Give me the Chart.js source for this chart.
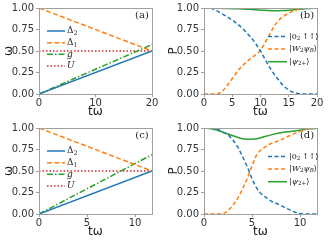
<!DOCTYPE html>
<html><head><meta charset="utf-8">
<script src="https://cdn.jsdelivr.net/npm/chart.js@4.4.0/dist/chart.umd.min.js"></script>
<style>
html,body{margin:0;padding:0;background:#fff;width:330px;height:240px;overflow:hidden;}
canvas{position:absolute;}
</style></head><body>
<canvas id="ca" width="165" height="120" style="left:0;top:0"></canvas>
<canvas id="cb" width="165" height="120" style="left:165px;top:0"></canvas>
<canvas id="cc" width="165" height="120" style="left:0;top:120px"></canvas>
<canvas id="cd" width="165" height="120" style="left:165px;top:120px"></canvas>
<script>
// ---- data ----
const yTicks = [0, 0.25, 0.5, 0.75, 1.0];
const xTicksA = [0, 10, 20];
const xTicksB = [0, 5, 10, 15, 20];
const xTicksC = [0, 5, 10];
const xTicksD = [0, 5, 10];
const tMaxAB = 20;
const tMaxCD = 11.77;

// panel (a)
const tA = [0, 20];
const delta2A = [0, 0.5];
const delta1A = [1, 0.5];
const gA = [0, 0.575];
const uA = [0.5, 0.5];

// panel (c)
const tC = [0, 11.77];
const delta2C = [0, 0.5];
const delta1C = [1, 0.5];
const gC = [0, 0.69];
const uC = [0.5, 0.5];

// panel (b)
const tB = [0,1,2,3,4,5,6,7,8,9,10,11,12,13,14,15,16,17,18,19,20];
const p0B = [1,1,0.975,0.94,0.9,0.86,0.81,0.75,0.68,0.6,0.5,0.38,0.27,0.18,0.1,0.045,0.015,0.003,0,0,0];
const pWB = [0,0,0,0.02,0.09,0.18,0.27,0.34,0.4,0.45,0.51,0.62,0.74,0.84,0.9,0.94,0.97,0.99,1,1,1];
const tBg = [0,2,4,6,8,10,12,14,16,18,20];
const pPsiB = [1,0.998,0.995,0.99,0.985,0.975,0.968,0.97,0.98,0.992,1];

// panel (d)
const tD = [0,1,1.5,2,2.5,3,3.5,4,4.5,5,5.5,6,6.5,7,7.5,8,8.5,9,9.5,10,10.5,11,11.77];
const p0D = [1,0.995,0.98,0.95,0.92,0.86,0.78,0.67,0.55,0.41,0.3,0.23,0.19,0.15,0.125,0.1,0.07,0.045,0.02,0.005,0,0,0];
const pWD = [0,0,0,0.005,0.04,0.1,0.18,0.29,0.41,0.56,0.69,0.75,0.79,0.82,0.84,0.86,0.89,0.915,0.94,0.96,0.98,0.99,1];
const tDg = [0,1,2,3,4,4.5,5,5.5,6,7,8,9,10,11,11.77];
const pPsiD = [1,0.985,0.95,0.91,0.875,0.87,0.87,0.875,0.89,0.92,0.945,0.96,0.975,0.99,0.995];

// ---- styles ----
const BLUE='#1f77b4', ORANGE='#ff7f0e', GREEN='#2ca02c', RED='#d62728';
const FRAME='#a0a0a0';

function pts(xs, ys){ return xs.map((x,i)=>({x:x,y:ys[i]})); }

function drawRich(ctx, segs, x, y, size, family){
  let cx = x;
  for (const s of segs){
    const fs = s.sub ? size*0.7 : size;
    ctx.font = (s.it ? 'italic ' : '') + fs + 'px ' + family;
    ctx.textBaseline = 'middle';
    ctx.textAlign = 'left';
    ctx.fillText(s.t, cx, y + (s.sub ? size*0.25 : 0));
    cx += ctx.measureText(s.t).width;
  }
}

const decor = {
  id: 'decor',
  afterDatasetsDraw(chart, args, o){
    const ctx = chart.ctx, a = chart.chartArea;
    ctx.save();
    ctx.strokeStyle = FRAME; ctx.lineWidth = 1;
    ctx.strokeRect(a.left + 0.5, a.top + 0.5, a.right - a.left, a.bottom - a.top);
    // legend
    const L = o.legend;
    L.entries.forEach((e, i) => {
      const y = L.ys[i];
      ctx.beginPath();
      ctx.strokeStyle = e.color; ctx.lineWidth = 1.5;
      ctx.setLineDash(e.dash || []);
      ctx.moveTo(L.x0, y); ctx.lineTo(L.x1, y); ctx.stroke();
      ctx.setLineDash([]);
      ctx.fillStyle = '#222';
      drawRich(ctx, e.segs, L.tx, y, L.size, 'DejaVu Serif');
    });
    // panel label
    ctx.fillStyle = '#222';
    ctx.font = '10px "DejaVu Serif"';
    ctx.textAlign = 'center'; ctx.textBaseline = 'middle';
    ctx.fillText(o.panel, 142, 15);
    // axis titles
    ctx.font = '12px "DejaVu Sans"';
    ctx.fillText('t\u03c9', (a.left + a.right)/2, 112);
    ctx.save();
    ctx.translate(9, (a.top + a.bottom)/2);
    ctx.rotate(-Math.PI/2);
    ctx.font = '12px "DejaVu Sans"';
    ctx.fillText(o.ytitle, 0, 0);
    ctx.restore();
    ctx.restore();
  }
};

function makeChart(id, datasets, xmax, xticks, panel, ytitle, legend){
  new Chart(document.getElementById(id), {
    type: 'line',
    data: { datasets: datasets },
    plugins: [decor],
    options: {
      responsive: false, animation: false, devicePixelRatio: 1,
      layout: { padding: { top: 5, right: 13, left: 0, bottom: 0 } },
      plugins: { legend: { display: false }, tooltip: { enabled: false },
        decor: { panel: panel, ytitle: ytitle, legend: legend } },
      elements: { point: { radius: 0 } },
      scales: {
        x: { type: 'linear', min: 0, max: xmax,
          afterBuildTicks: s => { s.ticks = xticks.map(v => ({value: v})); },
          afterFit: s => { s.height = 26; },
          grid: { drawOnChartArea: false, drawTicks: true, tickLength: 3, color: FRAME },
          border: { display: false },
          ticks: { padding: 0, color: '#333', font: { family: 'DejaVu Sans', size: 10 }, maxRotation: 0,
            callback: v => String(v) } },
        y: { type: 'linear', min: 0, max: 1,
          afterBuildTicks: s => { s.ticks = yTicks.map(v => ({value: v})); },
          afterFit: s => { s.width = 39; },
          grid: { drawOnChartArea: false, drawTicks: true, tickLength: 3, color: FRAME },
          border: { display: false },
          ticks: { padding: 2, color: '#333', font: { family: 'DejaVu Sans', size: 10 },
            callback: v => Number(v).toFixed(2) } }
      }
    }
  });
}

const DASH_O = [5, 2.5];
const DASH_B = [4, 2.5];
const DASHDOT = [6, 2, 1.5, 2];
const DOT = [1.5, 2];

function rampSets(t, d2, d1, g, u){
  return [
    { data: pts(t, d2), borderColor: BLUE, borderWidth: 1.5, fill: false },
    { data: pts(t, d1), borderColor: ORANGE, borderWidth: 1.5, borderDash: DASH_O, fill: false },
    { data: pts(t, g), borderColor: GREEN, borderWidth: 1.5, borderDash: DASHDOT, fill: false },
    { data: pts(t, u), borderColor: RED, borderWidth: 1.5, borderDash: DOT, fill: false }
  ];
}
function popSets(t, p0, pW, tg, pg){
  return [
    { data: pts(t, p0), borderColor: BLUE, borderWidth: 1.5, borderDash: DASH_B, cubicInterpolationMode: 'monotone', fill: false },
    { data: pts(t, pW), borderColor: ORANGE, borderWidth: 1.5, borderDash: DASH_B, cubicInterpolationMode: 'monotone', fill: false },
    { data: pts(tg, pg), borderColor: GREEN, borderWidth: 1.5, cubicInterpolationMode: 'monotone', fill: false }
  ];
}

const rampLegend = {
  x0: 47, x1: 65, tx: 67, size: 9, ys: [31, 42.7, 54.3, 66],
  entries: [
    { color: BLUE, segs: [{t:'\u0394'},{t:'2',sub:1}] },
    { color: ORANGE, dash: DASH_O, segs: [{t:'\u0394'},{t:'1',sub:1}] },
    { color: GREEN, dash: DASHDOT, segs: [{t:'g',it:1}] },
    { color: RED, dash: DOT, segs: [{t:'U',it:1}] }
  ]
};
const popLegend = {
  x0: 103, x1: 122, tx: 124, size: 8, ys: [36.5, 49, 61.7],
  entries: [
    { color: BLUE, dash: DASH_B, segs: [{t:'|0'},{t:'2',sub:1},{t:'\u2009\u2191\u2191\u27e9'}] },
    { color: ORANGE, dash: DASH_B, segs: [{t:'|'},{t:'W',it:1},{t:'2',sub:1},{t:'\u03c8',it:1},{t:'B',sub:1,it:1},{t:'\u27e9'}] },
    { color: GREEN, segs: [{t:'|'},{t:'\u03c8',it:1},{t:'2+',sub:1},{t:'\u27e9'}] }
  ]
};

makeChart('ca', rampSets(tA, delta2A, delta1A, gA, uA), tMaxAB, xTicksA, '(a)', '\u03c9', rampLegend);
makeChart('cb', popSets(tB, p0B, pWB, tBg, pPsiB), tMaxAB, xTicksB, '(b)', 'P', popLegend);
makeChart('cc', rampSets(tC, delta2C, delta1C, gC, uC), tMaxCD, xTicksC, '(c)', '\u03c9', rampLegend);
makeChart('cd', popSets(tD, p0D, pWD, tDg, pPsiD), tMaxCD, xTicksD, '(d)', 'P', popLegend);
</script>
</body></html>
